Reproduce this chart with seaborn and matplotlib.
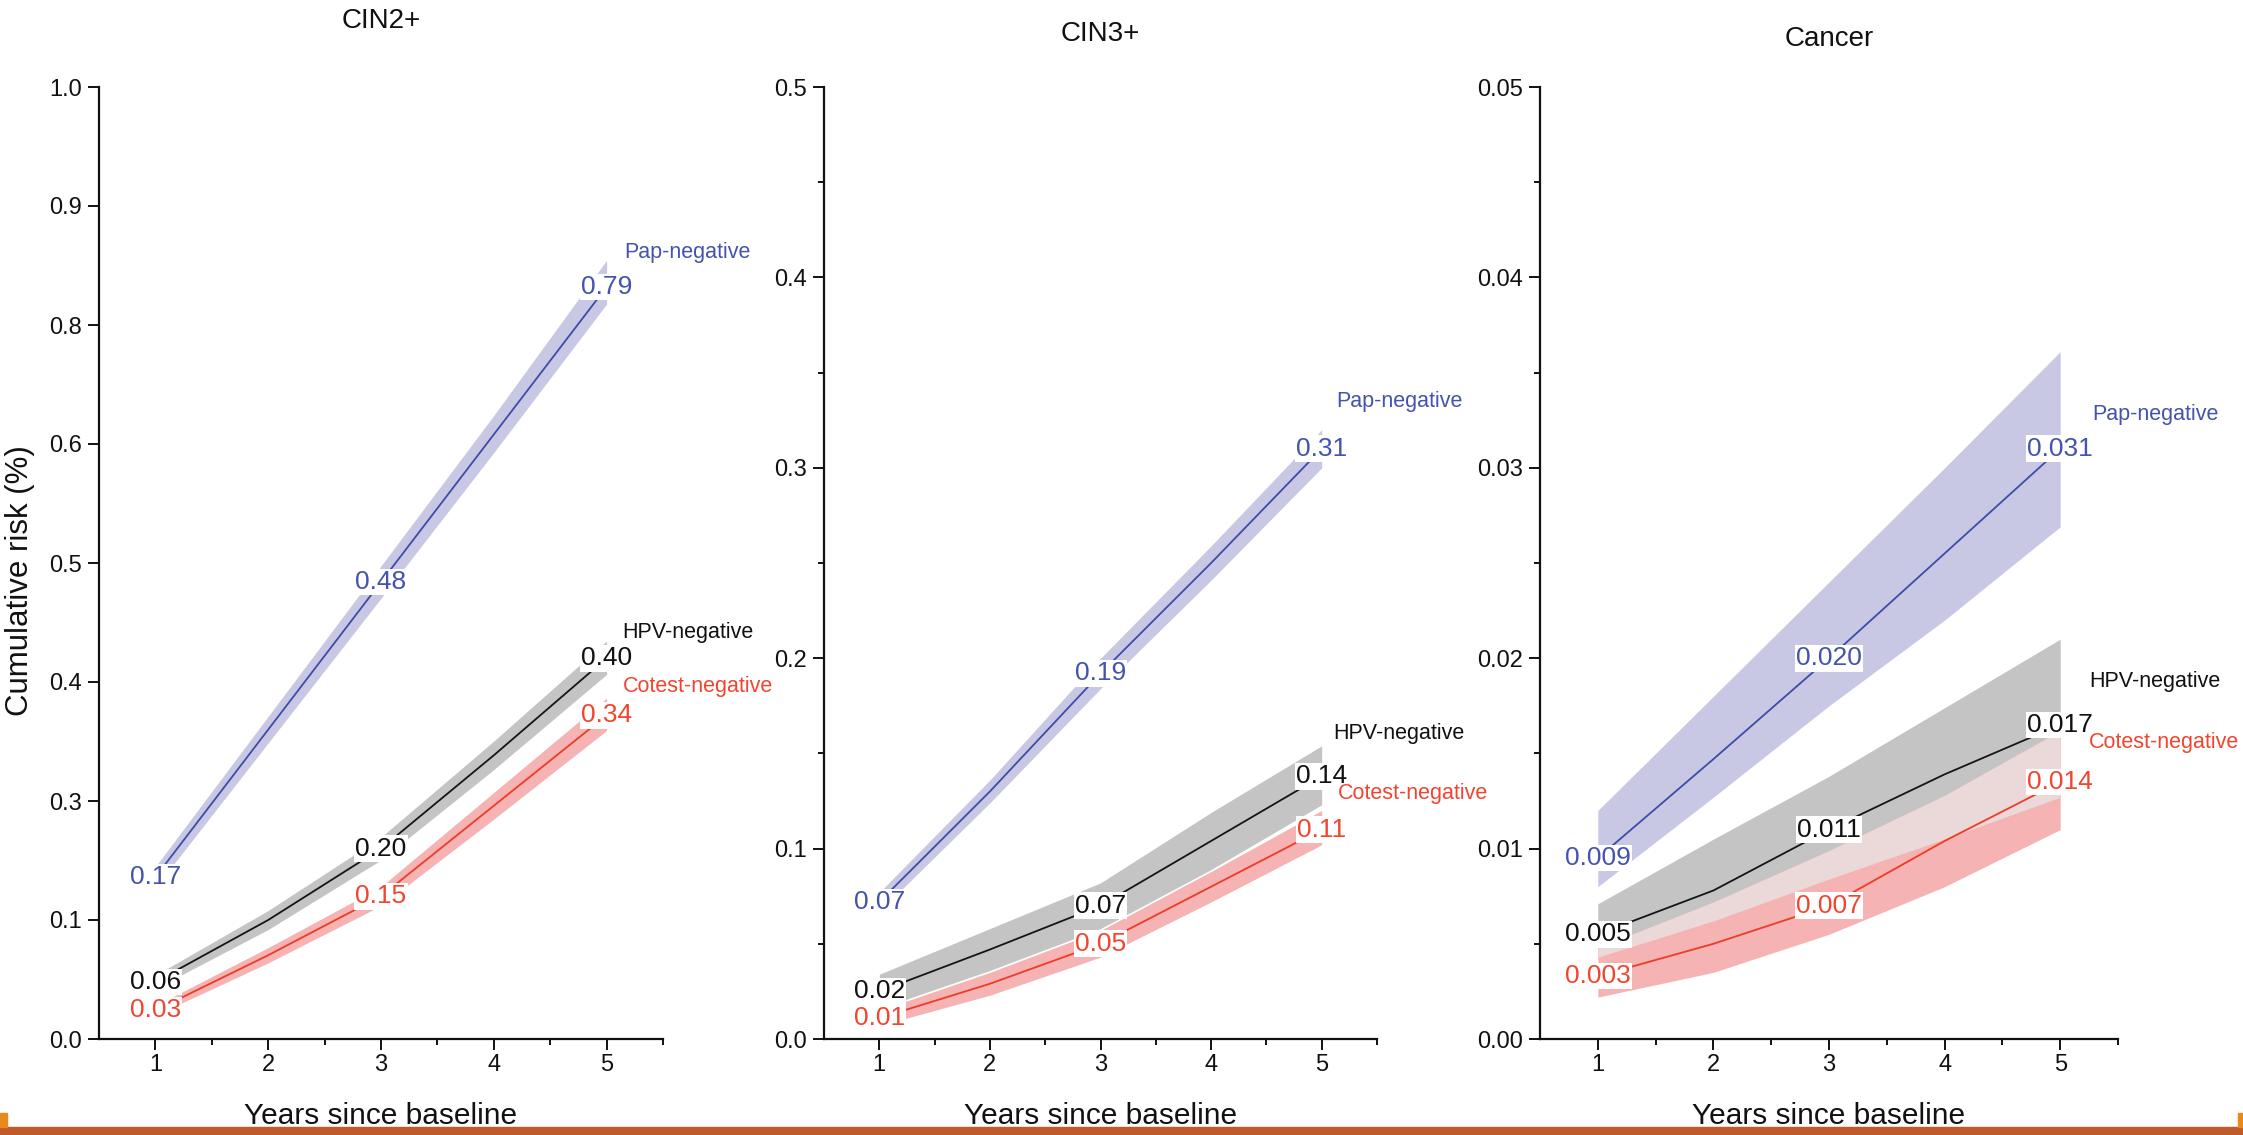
import matplotlib
matplotlib.use("Agg")
import matplotlib.pyplot as plt
import pandas as pd
import numpy as np
import seaborn as sns
from matplotlib.patches import Rectangle
from matplotlib.ticker import FixedLocator

# ---- data ----
years = [1, 2, 3, 4, 5]
tests = ["Pap-negative", "HPV-negative", "Cotest-negative"]
panels = ["CIN2+", "CIN3+", "Cancer"]

# CIN2+
cin2_pap = [0.17, 0.325, 0.48, 0.635, 0.79]
cin2_pap_lo = [0.159, 0.311, 0.463, 0.616, 0.772]
cin2_pap_hi = [0.181, 0.339, 0.497, 0.655, 0.818]
cin2_hpv = [0.06, 0.125, 0.20, 0.298, 0.40]
cin2_hpv_lo = [0.053, 0.115, 0.188, 0.283, 0.383]
cin2_hpv_hi = [0.067, 0.135, 0.212, 0.313, 0.418]
cin2_cot = [0.03, 0.088, 0.15, 0.245, 0.34]
cin2_cot_lo = [0.025, 0.080, 0.140, 0.231, 0.324]
cin2_cot_hi = [0.035, 0.096, 0.160, 0.259, 0.358]

# CIN3+
cin3_pap = [0.072, 0.13, 0.192, 0.25, 0.31]
cin3_pap_lo = [0.067, 0.124, 0.184, 0.241, 0.300]
cin3_pap_hi = [0.077, 0.136, 0.200, 0.259, 0.320]
cin3_hpv = [0.025, 0.047, 0.07, 0.104, 0.138]
cin3_hpv_lo = [0.016, 0.036, 0.058, 0.089, 0.123]
cin3_hpv_hi = [0.034, 0.058, 0.082, 0.119, 0.154]
cin3_cot = [0.011, 0.029, 0.05, 0.08, 0.11]
cin3_cot_lo = [0.007, 0.023, 0.043, 0.072, 0.102]
cin3_cot_hi = [0.015, 0.035, 0.057, 0.088, 0.120]

# Cancer
canc_pap = [0.0095, 0.0147, 0.020, 0.0255, 0.031]
canc_pap_lo = [0.0080, 0.0127, 0.0175, 0.0220, 0.0269]
canc_pap_hi = [0.0120, 0.0180, 0.0240, 0.0300, 0.0361]
canc_hpv = [0.0055, 0.0078, 0.011, 0.0139, 0.0165]
canc_hpv_lo = [0.0043, 0.0062, 0.0084, 0.0105, 0.0127]
canc_hpv_hi = [0.0071, 0.0105, 0.0138, 0.0174, 0.0210]
canc_cot = [0.0033, 0.0050, 0.007, 0.0104, 0.0135]
canc_cot_lo = [0.0022, 0.0035, 0.0055, 0.0080, 0.0110]
canc_cot_hi = [0.0048, 0.0072, 0.0099, 0.0128, 0.0162]

# printed values at years 1, 3, 5
cin2_labels = [["0.17", "0.48", "0.79"], ["0.06", "0.20", "0.40"], ["0.03", "0.15", "0.34"]]
cin3_labels = [["0.07", "0.19", "0.31"], ["0.02", "0.07", "0.14"], ["0.01", "0.05", "0.11"]]
canc_labels = [["0.009", "0.020", "0.031"], ["0.005", "0.011", "0.017"], ["0.003", "0.007", "0.014"]]

# y tick values and their printed labels
cin2_yticks = [0, 0.125, 0.25, 0.375, 0.5, 0.625, 0.75, 0.875, 1.0]
cin2_yticklabels = ["0.0", "0.1", "0.3", "0.4", "0.5", "0.6", "0.8", "0.9", "1.0"]
cin3_yticks = [0, 0.1, 0.2, 0.3, 0.4, 0.5]
cin3_yticklabels = ["0.0", "0.1", "0.2", "0.3", "0.4", "0.5"]
canc_yticks = [0, 0.01, 0.02, 0.03, 0.04, 0.05]
canc_yticklabels = ["0.00", "0.01", "0.02", "0.03", "0.04", "0.05"]

# ---- styling / layout ----
LINE_COLORS = {"Pap-negative": "#3D4CA6", "HPV-negative": "#151515", "Cotest-negative": "#EE3B26"}
TEXT_COLORS = {"Pap-negative": "#4453AE", "HPV-negative": "#111111", "Cotest-negative": "#F2452F"}
BAND_COLORS = {"Pap-negative": "#C8C8E4", "HPV-negative": "#C4C4C4", "Cotest-negative": "#F5B3B3"}
OVERLAP_COLOR = "#EBD8D8"

sns.set_style("ticks")
plt.rcParams["font.family"] = ["Liberation Sans", "DejaVu Sans"]

W, H = 2243, 1135
fig = plt.figure(figsize=(W / 100, H / 100), dpi=100)

axes_px = [(99, 564), (824, 553), (1540, 578)]
top_px, bottom_px = 87, 1039
title_y = [1.069, 1.056, 1.050]

panel_data = [
    (cin2_pap, cin2_pap_lo, cin2_pap_hi, cin2_hpv, cin2_hpv_lo, cin2_hpv_hi,
     cin2_cot, cin2_cot_lo, cin2_cot_hi, cin2_labels, cin2_yticks, cin2_yticklabels, None, 1.0),
    (cin3_pap, cin3_pap_lo, cin3_pap_hi, cin3_hpv, cin3_hpv_lo, cin3_hpv_hi,
     cin3_cot, cin3_cot_lo, cin3_cot_hi, cin3_labels, cin3_yticks, cin3_yticklabels, 0.05, 0.5),
    (canc_pap, canc_pap_lo, canc_pap_hi, canc_hpv, canc_hpv_lo, canc_hpv_hi,
     canc_cot, canc_cot_lo, canc_cot_hi, canc_labels, canc_yticks, canc_yticklabels, 0.005, 0.05),
]

# where the series names sit (year, value)
name_pos = [
    [(5.16, 0.826), (5.14, 0.4275), (5.14, 0.37)],
    [(5.13, 0.3346), (5.10, 0.1607), (5.15, 0.129)],
    [(5.28, 0.0328), (5.25, 0.01875), (5.25, 0.01555)],
]

for i, (panel, (left, width)) in enumerate(zip(panels, axes_px)):
    (pap, pap_lo, pap_hi, hpv, hpv_lo, hpv_hi,
     cot, cot_lo, cot_hi, labels, yticks, yticklabels, minor_step, ymax) = panel_data[i]
    ax = fig.add_axes([left / W, (H - bottom_px) / H, width / W, (bottom_px - top_px) / H])

    mids = {"Pap-negative": pap, "HPV-negative": hpv, "Cotest-negative": cot}
    los = {"Pap-negative": pap_lo, "HPV-negative": hpv_lo, "Cotest-negative": cot_lo}
    his = {"Pap-negative": pap_hi, "HPV-negative": hpv_hi, "Cotest-negative": cot_hi}

    for t in tests:
        ax.fill_between(years, los[t], his[t], color=BAND_COLORS[t], lw=0, zorder=1)

    # lighter where the HPV and cotest bands overlap
    ov_lo = np.maximum(hpv_lo, cot_lo)
    ov_hi = np.minimum(hpv_hi, cot_hi)
    ax.fill_between(years, ov_lo, ov_hi, where=ov_hi > ov_lo, interpolate=True,
                    color=OVERLAP_COLOR, lw=0, zorder=1.5)

    df = pd.DataFrame({
        "year": years * 3,
        "risk": pap + hpv + cot,
        "test": sum([[t] * len(years) for t in tests], []),
    })
    sns.lineplot(data=df, x="year", y="risk", hue="test", palette=LINE_COLORS,
                 ax=ax, legend=False, linewidth=1.3, errorbar=None, zorder=2)

    for t, lab in zip(tests, labels):
        for k, idx in enumerate([0, 2, 4]):
            ax.text(years[idx], mids[t][idx], lab[k], ha="center", va="center",
                    fontsize=19, color=TEXT_COLORS[t], zorder=4,
                    bbox=dict(boxstyle="square,pad=0.05", fc="white", ec="none"))

    for t, (nx, ny) in zip(tests, name_pos[i]):
        ax.text(nx, ny, t, ha="left", va="center", fontsize=15.5,
                color=TEXT_COLORS[t], zorder=4)

    ax.set_xlim(0.5, 5.5)
    ax.set_ylim(0, ymax)
    ax.set_xticks(years)
    ax.xaxis.set_minor_locator(FixedLocator([1.5, 2.5, 3.5, 4.5, 5.5]))
    ax.set_yticks(yticks)
    ax.set_yticklabels(yticklabels)
    if minor_step:
        ax.yaxis.set_minor_locator(FixedLocator(np.array(yticks[:-1]) + minor_step))

    sns.despine(ax=ax)
    for s in ["left", "bottom"]:
        ax.spines[s].set_linewidth(1.6)
        ax.spines[s].set_color("#111111")
    ax.tick_params(which="major", direction="out", length=8, width=1.4,
                   labelsize=17, color="#111111", labelcolor="#111111")
    ax.tick_params(which="minor", direction="out", length=4, width=1.4, color="#111111")
    ax.tick_params(axis="x", which="major", pad=3)
    ax.tick_params(axis="y", which="major", pad=4)

    ax.set_xlabel("Years since baseline", fontsize=21.5, color="#111111")
    ax.xaxis.set_label_coords(0.5, -0.066)
    if i == 0:
        ax.set_ylabel("Cumulative risk (%)", fontsize=22.5, color="#111111")
        ax.yaxis.set_label_coords(-0.114, 0.482)
    else:
        ax.set_ylabel("")

    ax.text(0.5, title_y[i], panel, transform=ax.transAxes, ha="center",
            va="center", fontsize=20, color="#111111")

# slide decoration along the bottom edge
fig.add_artist(Rectangle((0, 0), 1, 8 / H, transform=fig.transFigure,
                         color="#BF5A2A", zorder=10))
fig.add_artist(Rectangle((0, 8 / H), 7 / W, 14 / H, transform=fig.transFigure,
                         color="#E8891E", zorder=10))
fig.add_artist(Rectangle((1 - 5 / W, 8 / H), 5 / W, 14 / H, transform=fig.transFigure,
                         color="#E8891E", zorder=10))

fig.savefig("out.png", dpi=100)
